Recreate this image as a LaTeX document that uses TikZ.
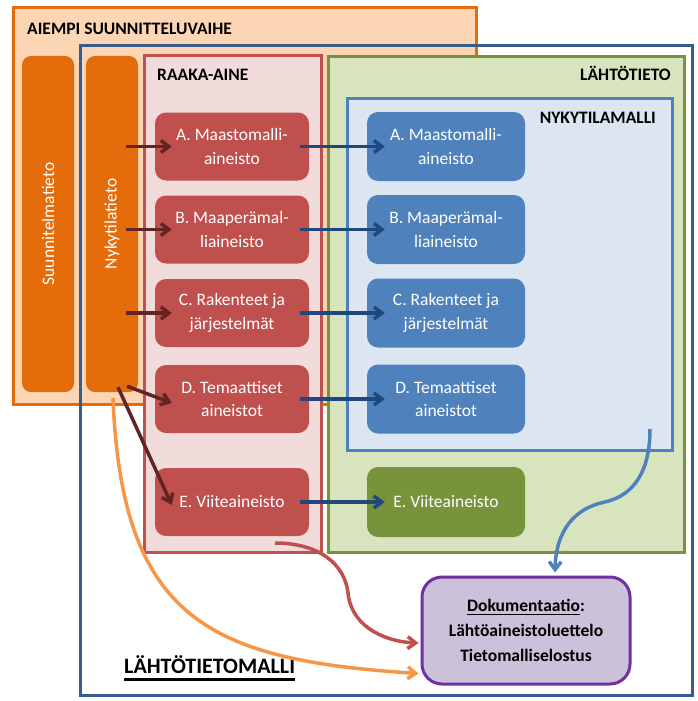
\documentclass[tikz,border=0pt]{standalone}
\usepackage{fontspec}
\setmainfont{Carlito}
\usetikzlibrary{arrows.meta}
\definecolor{orgfill}{HTML}{FCD5B5}
\definecolor{orgline}{HTML}{E46C0A}
\definecolor{bluedark}{HTML}{385D8A}
\definecolor{redfill}{HTML}{F2DCDB}
\definecolor{redline}{HTML}{C0504D}
\definecolor{grnfill}{HTML}{D7E4BD}
\definecolor{grnline}{HTML}{77933C}
\definecolor{bluefill}{HTML}{DCE6F2}
\definecolor{blueline}{HTML}{4F81BD}
\definecolor{purfill}{HTML}{CCC1DA}
\definecolor{purline}{HTML}{7030A0}
\definecolor{arrred}{HTML}{632523}
\definecolor{arrblue}{HTML}{1F497D}
\definecolor{arrorange}{HTML}{F79646}
\newcommand\myul[3]{\setbox0\hbox{#3}\rlap{\rule[#1]{\wd0}{#2}}\box0}
\tikzset{
  frame/.style={line width=3pt, inner sep=0pt, outer sep=0pt},
  bar/.style={fill=orgline, rounded corners=9pt, inner sep=0pt, minimum width=336pt, minimum height=52pt, text=white, font=\fontsize{17.5}{23}\selectfont, rotate=90},
  lbl/.style={inner sep=0pt, font=\fontsize{17.5}{21}\selectfont\bfseries},
  item/.style={rounded corners=11pt, inner sep=0pt, text=white, align=center, font=\fontsize{17.5}{23.5}\selectfont},
  reditem/.style={item, fill=redline, minimum width=154pt, minimum height=68pt},
  blueitem/.style={item, fill=blueline, minimum width=158pt, minimum height=69pt},
  grnitem/.style={item, fill=grnline, minimum width=158pt, minimum height=70pt},
  tip/.style={-{Straight Barb[length=8pt,width=12pt]}, line width=3.5pt},
  darr/.style={tip, arrred},
  barr/.style={tip, arrblue},
}
\begin{document}
\begin{tikzpicture}[x=1pt, y=-1pt]
\useasboundingbox (0,0) rectangle (697,701);
% containers
\node[frame, draw=orgline, fill=orgfill, minimum width=463pt, minimum height=396pt] (aiempi) at (244.5,206) {};
\node[bar] (suun) at (48,224) {Suunnitelmatieto};
\node[bar] (nyk) at (112,224) {Nykytilatieto};
\node[frame, draw=bluedark, minimum width=612pt, minimum height=649pt] (malli) at (386,370.5) {};
\node[frame, draw=redline, fill=redfill, minimum width=177pt, minimum height=496pt] (raaka) at (232.5,304) {};
\node[frame, draw=grnline, fill=grnfill, minimum width=356pt, minimum height=495pt] (lahto) at (506,304.5) {};
\node[frame, draw=blueline, fill=bluefill, minimum width=325pt, minimum height=352pt] (nykm) at (509.5,274) {};
% labels
\node[lbl, anchor=base west] (laiempi) at (27,35) {AIEMPI SUUNNITTELUVAIHE};
\node[lbl, anchor=base west] (lraaka) at (157,81) {RAAKA-AINE};
\node[lbl, anchor=base east] (llahto) at (671,81) {LÄHTÖTIETO};
\node[lbl, anchor=base east] (lnykm) at (656,123) {NYKYTILAMALLI};
\node[inner sep=0pt, anchor=base west, font=\fontsize{22}{26}\selectfont\bfseries] (lmalli) at (124,673) {\myul{-7.8pt}{3pt}{LÄHTÖTIETOMALLI}};
% raw material items
\node[reditem] (rA) at (232,146.5) {A. Maastomalli-\\aineisto};
\node[reditem] (rB) at (232,229.5) {B. Maaperämal-\\liaineisto};
\node[reditem] (rC) at (232,313) {C. Rakenteet ja\\järjestelmät};
\node[reditem] (rD) at (232,399) {D. Temaattiset\\aineistot};
\node[reditem] (rE) at (232,502) {E. Viiteaineisto};
% model items
\node[blueitem] (bA) at (446,146.5) {A. Maastomalli-\\aineisto};
\node[blueitem] (bB) at (446,229.5) {B. Maaperämal-\\liaineisto};
\node[blueitem] (bC) at (446,313) {C. Rakenteet ja\\järjestelmät};
\node[blueitem] (bD) at (446,399) {D. Temaattiset\\aineistot};
\node[grnitem] (gE) at (446,502) {E. Viiteaineisto};
% documentation
\node[rounded corners=20pt, draw=purline, fill=purfill, line width=3pt, minimum width=208pt, minimum height=107pt, inner sep=0pt, align=center, font=\fontsize{17.5}{25}\selectfont\bfseries] (doc) at (526,630.5) {\myul{-3.6pt}{1.6pt}{Dokumentaatio}:\\Lähtöaineistoluettelo\\Tietomalliselostus};
% arrows from Nykytilatieto
\foreach \n in {rA,rB,rC}
  \draw[darr] ([xshift=-29pt]\n.west) -- ([xshift=17pt]\n.west);
\draw[darr] ([xshift=15pt,yshift=6pt]nyk.west) -- ([xshift=17pt,yshift=-4pt]rD.west);
\draw[darr] ([xshift=6pt,yshift=5pt]nyk.west) -- ([xshift=17pt,yshift=-3pt]rE.west);
% arrows raw -> model
\draw[barr] ([xshift=-9pt]rA.east) -- ([xshift=18pt]bA.west);
\draw[barr] ([xshift=-9pt]rB.east) -- ([xshift=18pt]bB.west);
\draw[barr] ([xshift=-9pt]rC.east) -- ([xshift=18pt]bC.west);
\draw[barr] ([xshift=-9pt]rD.east) -- ([xshift=18pt]bD.west);
\draw[barr] ([xshift=-9pt]rE.east) -- ([xshift=18pt]gE.west);
% curved arrows to documentation
\draw[tip, blueline] ([xshift=-22pt,yshift=21pt]nykm.south east) .. controls (650,470) and (635,495) .. (605,502) .. controls (575,508) and (556,530) .. ([xshift=29pt,yshift=3pt]doc.north);
\draw[tip, redline] ([xshift=-46pt,yshift=9pt]raaka.south east) .. controls (320,543) and (345,565) .. (348,593) .. controls (352,630) and (390,642) .. ([xshift=-2pt,yshift=-12.5pt]doc.west);
\draw[tip, arrorange] ([xshift=1pt,yshift=-6pt]nyk.west) .. controls (122,620) and (210,660) .. ([xshift=-2pt,yshift=12pt]doc.south west);
\end{tikzpicture}
\end{document}
